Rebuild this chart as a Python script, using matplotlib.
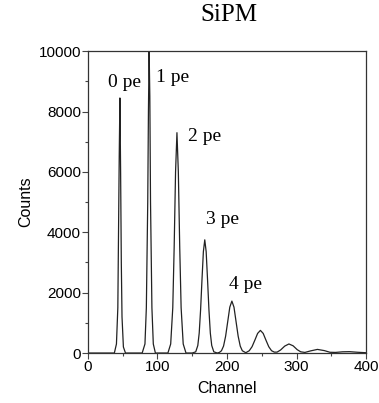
import matplotlib
matplotlib.use("Agg")
import matplotlib.pyplot as plt
from matplotlib.ticker import MultipleLocator

# ---- spectrum (channel, counts) ----
channel = [0, 38, 41, 43, 44, 45, 46, 47, 48, 49, 51, 54,
           78, 82, 84, 86, 87, 88, 89, 90, 92, 94, 97,
           115, 119, 122, 124, 126, 128, 130, 132, 134, 137, 141,
           150, 155, 158, 160, 162, 164, 166, 168, 170, 172, 174, 176, 178, 181, 186,
           189, 192, 195, 198, 201, 204, 207, 210, 213, 216, 219, 222, 227,
           232, 236, 240, 244, 248, 252, 256, 260, 264, 268,
           272, 277, 283, 289, 295, 301, 306,
           312, 320, 330, 340, 348,
           356, 366, 376, 388, 400]
counts = [0, 0, 300, 1500, 4000, 6500, 8450, 6000, 3000, 1200, 200, 0,
          0, 300, 1500, 5000, 8000, 10000, 8500, 5000, 1500, 300, 0,
          0, 300, 1500, 3500, 6000, 7300, 6000, 3500, 1500, 300, 0,
          0, 40, 250, 660, 1430, 2430, 3360, 3750, 3360, 2430, 1430, 660, 250, 40, 0,
          20, 75, 230, 560, 1040, 1520, 1720, 1520, 1040, 560, 230, 75, 10,
          77, 210, 425, 650, 750, 650, 425, 210, 77, 30,
          30, 100, 230, 300, 240, 110, 40,
          20, 70, 120, 80, 25,
          20, 40, 45, 25, 10]

peak_labels = ["0 pe", "1 pe", "2 pe", "3 pe", "4 pe"]
label_x = [53, 121, 168, 193, 227]
label_y = [8970, 9140, 7185, 4440, 2285]

fig = plt.figure(figsize=(3.79, 4.03), dpi=100)
ax = fig.add_axes([0.232, 0.124, 0.734, 0.749])

ax.plot(channel, counts, color="#222222", lw=0.9)

for s, x, y in zip(peak_labels, label_x, label_y):
    ax.text(x, y, s, ha="center", va="center", family="Liberation Serif",
            fontsize=14, color="black")

ax.set_xlim(0, 400)
ax.set_ylim(0, 10000)
ax.xaxis.set_major_locator(MultipleLocator(100))
ax.xaxis.set_minor_locator(MultipleLocator(50))
ax.yaxis.set_major_locator(MultipleLocator(2000))
ax.yaxis.set_minor_locator(MultipleLocator(1000))
ax.tick_params(which="both", direction="out", top=False, right=False,
               color="#444444", width=0.8)
ax.tick_params(which="major", length=4, labelsize=11, pad=1)
ax.tick_params(which="minor", length=2.5)
for t in ax.get_xticklabels() + ax.get_yticklabels():
    t.set_family("Liberation Sans")
for sp in ax.spines.values():
    sp.set_color("#333333")
    sp.set_linewidth(0.9)

ax.set_xlabel("Channel", family="Liberation Sans", fontsize=11.5, labelpad=5)
ax.set_ylabel("Counts", family="Liberation Sans", fontsize=11.5, labelpad=4)

fig.text(0.604, 0.962, "SiPM", ha="center", va="center",
         family="Liberation Serif", fontsize=18)

fig.savefig("out.png", dpi=100)
